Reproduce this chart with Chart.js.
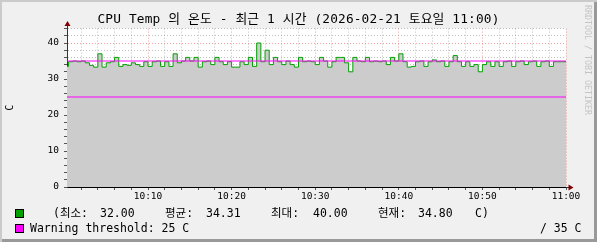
<!DOCTYPE html>
<html>
<head>
<meta charset="utf-8">
<script src="https://cdn.jsdelivr.net/npm/chart.js@4.4.1/dist/chart.umd.min.js"></script>
<style>
  body { margin: 0; }
  #frame {
    position: relative; width: 597px; height: 242px; background: #f0f0f0; overflow: hidden;
    box-shadow: inset 2px 2px 0 #cbcbcb, inset -3px -3px 0 #999;
    font-family: "DejaVu Sans Mono", "Noto Sans CJK KR", monospace; color: #000;
  }
  canvas { position: absolute; left: 0; top: 0; }
  .txt { position: absolute; white-space: pre; font-size: 11.5px; line-height: 12px; }
  .box { position: absolute; width: 7px; height: 7px; border: 1px solid #000; }
  #title { position: absolute; left: 0; top: 12px; width: 597px; text-align: center;
    font-size: 12.8px; line-height: 14px; white-space: pre; letter-spacing: 0.15px; }
  #mark { position: absolute; left: 583px; top: 5px; writing-mode: vertical-rl;
    font-size: 8.3px; line-height: 10px; color: #c4c4c4; white-space: pre; }
</style>
</head>
<body>
<div id="frame">
  <canvas id="tempChart" width="597" height="242"></canvas>
  <div id="title">CPU Temp 의 온도 - 최근 1 시간 (2026-02-21 토요일 11:00)</div>
  <div id="mark">RRDTOOL / TOBI OETIKER</div>
  <div class="box" style="left:15px; top:209px; background:#00a000"></div>
  <div class="txt" style="left:53px; top:207px">(최소:</div>
  <div class="txt" id="minTxt" style="left:100px; top:207px"></div>
  <div class="txt" style="left:165px; top:207px">평균:</div>
  <div class="txt" id="avgTxt" style="left:206px; top:207px"></div>
  <div class="txt" style="left:271px; top:207px">최대:</div>
  <div class="txt" id="maxTxt" style="left:313px; top:207px"></div>
  <div class="txt" style="left:378px; top:207px">현재:</div>
  <div class="txt" id="curTxt" style="left:418px; top:207px"></div>
  <div class="txt" style="left:475px; top:207px">C)</div>
  <div class="box" style="left:15px; top:224px; background:#ff00ff"></div>
  <div class="txt" id="warnTxt" style="left:30px; top:222px"></div>
  <div class="txt" id="critTxt" style="left:540px; top:222px"></div>
</div>
<script>
// temperature samples, one every 30 s starting 10:00
const tempValues = [
  35, 33.5, 34.8, 35, 34.8, 35, 34.5, 33.8, 33.3, 37,
  33.3, 34.5, 34.8, 36, 33.5, 34, 33.8, 34.5, 34, 33.5,
  34.8, 33.5, 34.8, 35, 33.5, 34.8, 33.5, 37, 34.5, 35,
  36, 35, 36, 33.3, 34.8, 35, 34, 36, 34.8, 34,
  34.8, 33.3, 33.3, 34.8, 34, 36, 33.5, 40, 34.8, 38,
  34, 36, 34.8, 34, 35, 34, 33.3, 36, 34.8, 35,
  34.8, 34, 36, 35, 33.3, 34.8, 36, 36, 34.5, 32,
  36, 35, 34.8, 36, 34.8, 35, 34.8, 35, 34, 36,
  35, 37, 34.8, 33.3, 33.5, 34.8, 35, 33.5, 34.8, 35.3,
  34.8, 35, 33.5, 34.8, 36.5, 34.8, 33.5, 34.8, 33.5, 34,
  32, 34, 34.8, 33.5, 34.8, 33.5, 34.8, 35, 33.5, 34.8,
  35, 34, 34.8, 35, 33.5, 34.8, 35, 33.5, 34.8, 34.8
];
const sampleStep = 0.5;          // minutes between samples
const xMin = 0.31, xMax = 60;    // minutes after 10:00
const yMin = 0, yMax = 44;
const warnLevel = 25;
const critLevel = 35;
const xTickLabels = ['10:10', '10:20', '10:30', '10:40', '10:50', '11:00'];
const yTickLabels = ['0', '10', '20', '30', '40'];
const minVal = 32.00, avgVal = 34.31, maxVal = 40.00, curVal = 34.80;

// legend text
document.getElementById('minTxt').textContent = minVal.toFixed(2);
document.getElementById('avgTxt').textContent = avgVal.toFixed(2);
document.getElementById('maxTxt').textContent = maxVal.toFixed(2);
document.getElementById('curTxt').textContent = curVal.toFixed(2);
document.getElementById('warnTxt').textContent = `Warning threshold: ${warnLevel} C`;
document.getElementById('critTxt').textContent = `/ ${critLevel} C`;

const tempPoints = tempValues.map((v, i) => ({ x: i * sampleStep, y: v }));
tempPoints.push({ x: xMax, y: tempValues[tempValues.length - 1] });

const MINOR = 'rgba(150,150,150,0.6)';
const MAJOR = 'rgba(230,110,110,0.65)';

// white canvas behind the plot
const plotBack = {
  id: 'plotBack',
  beforeDraw(chart) {
    const { ctx, chartArea: a } = chart;
    ctx.save();
    ctx.fillStyle = '#fff';
    ctx.fillRect(a.left, a.top, a.right - a.left, a.bottom - a.top);
    ctx.restore();
  }
};

// rrdtool style arrows at the axis ends
const axisArrows = {
  id: 'axisArrows',
  afterDraw(chart) {
    const { ctx, chartArea: a } = chart;
    const lx = Math.round(a.left) + 0.5;
    const by = Math.round(a.bottom) + 0.5;
    ctx.save();
    ctx.strokeStyle = '#333';
    ctx.lineWidth = 1;
    ctx.beginPath();
    ctx.moveTo(lx, a.top); ctx.lineTo(lx, a.top - 4);
    ctx.moveTo(a.right, by); ctx.lineTo(a.right + 4, by);
    ctx.stroke();
    ctx.fillStyle = '#7f0000';
    ctx.beginPath();
    ctx.moveTo(lx, a.top - 7.5); ctx.lineTo(lx - 3, a.top - 2.5); ctx.lineTo(lx + 3, a.top - 2.5);
    ctx.closePath(); ctx.fill();
    ctx.beginPath();
    ctx.moveTo(a.right + 7.5, by); ctx.lineTo(a.right + 2.5, by - 3); ctx.lineTo(a.right + 2.5, by + 3);
    ctx.closePath(); ctx.fill();
    ctx.restore();
  }
};

const tickFont = { family: 'DejaVu Sans Mono', size: 9.5 };

new Chart(document.getElementById('tempChart'), {
  type: 'line',
  data: {
    datasets: [
      {
        data: tempPoints,
        stepped: 'after',
        borderColor: '#00a000',
        borderWidth: 1,
        backgroundColor: '#cccccc',
        fill: 'origin',
        pointRadius: 0,
        order: 2
      },
      {
        data: [{ x: xMin, y: critLevel }, { x: xMax, y: critLevel }],
        borderColor: '#ff00ff',
        borderWidth: 1,
        pointRadius: 0,
        fill: false,
        order: 1
      },
      {
        data: [{ x: xMin, y: warnLevel }, { x: xMax, y: warnLevel }],
        borderColor: '#ff00ff',
        borderWidth: 1,
        pointRadius: 0,
        fill: false,
        order: 1
      }
    ]
  },
  options: {
    responsive: false,
    animation: false,
    layout: { padding: { left: 0, right: 31, top: 28.6, bottom: 35 } },
    plugins: { legend: { display: false }, tooltip: { enabled: false } },
    scales: {
      x: {
        type: 'linear',
        min: xMin,
        max: xMax,
        z: 1,
        afterFit: s => { s.height = 20; },
        ticks: {
          stepSize: 2,
          includeBounds: false,
          autoSkip: false,
          maxRotation: 0,
          padding: 1,
          color: '#000',
          font: tickFont,
          callback: v => (v % 10 === 0 ? xTickLabels[v / 10 - 1] : '')
        },
        grid: {
          color: c => (c.tick && c.tick.value % 10 === 0 ? MAJOR : MINOR),
          tickLength: 3,
          tickColor: '#555'
        },
        border: { display: true, color: '#000', width: 1, dash: [1, 2] }
      },
      y: {
        min: yMin,
        max: yMax,
        z: 1,
        afterFit: s => { s.width = 67; },
        title: { display: true, text: 'C', color: '#000', font: { family: 'DejaVu Sans Mono', size: 10 }, padding: 4 },
        ticks: {
          stepSize: 2,
          autoSkip: false,
          padding: 5,
          color: '#000',
          font: tickFont,
          callback: v => (v % 10 === 0 ? yTickLabels[v / 10] : '')
        },
        grid: {
          color: c => (c.tick && c.tick.value % 10 === 0 ? MAJOR : MINOR),
          tickLength: 3,
          tickColor: '#555'
        },
        border: { display: true, color: '#333', width: 1, dash: [1, 2] }
      }
    }
  },
  plugins: [plotBack, axisArrows]
});
</script>
</body>
</html>
